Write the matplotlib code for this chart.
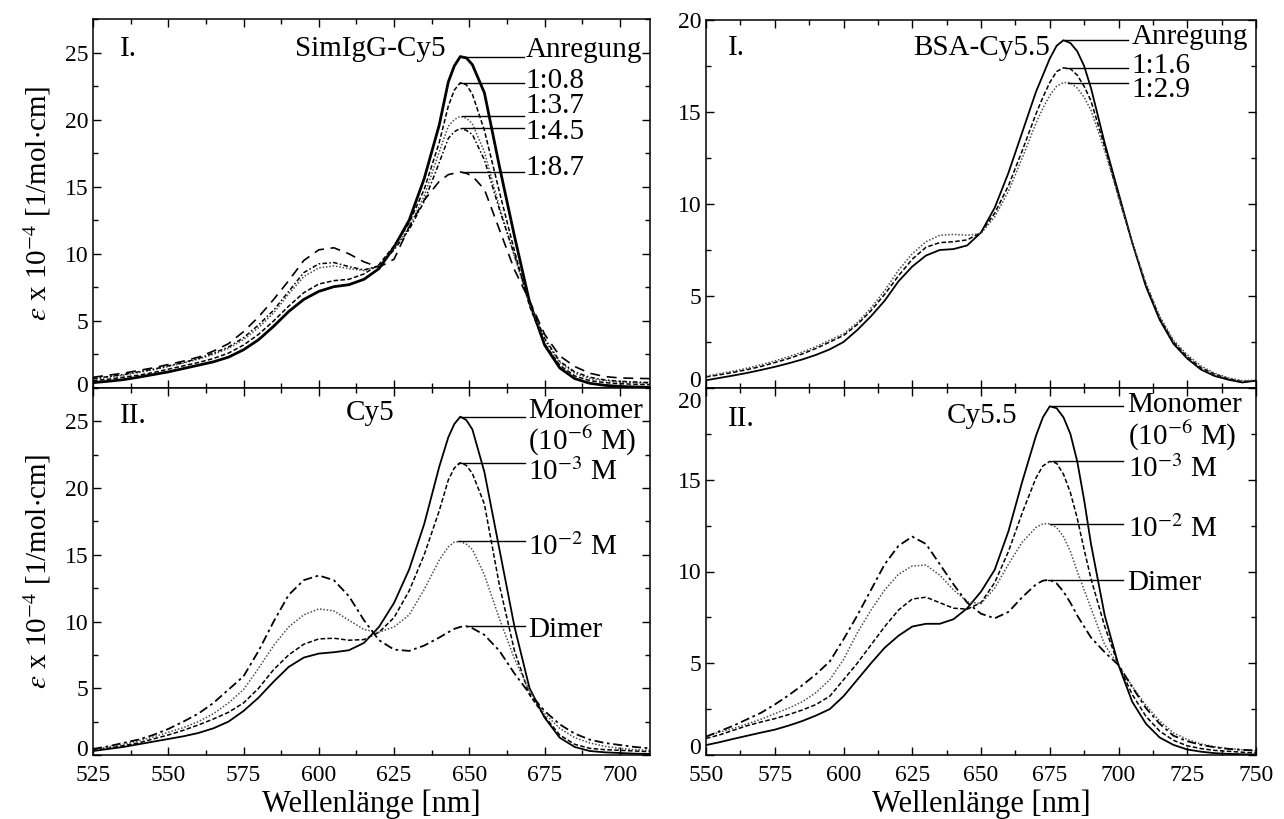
import matplotlib
matplotlib.use("Agg")
import matplotlib.pyplot as plt
from matplotlib.ticker import MultipleLocator
from matplotlib.transforms import ScaledTranslation

plt.rcParams['font.family'] = ['Liberation Serif', 'DejaVu Serif']
plt.rcParams['mathtext.fontset'] = 'stix'
plt.rcParams['axes.linewidth'] = 1.1

# ---------------- Cy5 (left column) ----------------
wl_cy5 = [525, 530, 535, 540, 545, 550, 555, 560, 565, 570, 575, 580, 585, 590,
          595, 600, 605, 610, 615, 620, 625, 630, 635, 640, 643, 645, 647, 649,
          651, 655, 660, 665, 670, 675, 680, 685, 690, 695, 700, 705, 710]

# I. SimIgG-Cy5 conjugates
simigg_anregung = [0.4, 0.5, 0.62, 0.8, 1.0, 1.2, 1.45, 1.7, 1.95, 2.3, 2.85, 3.6, 4.6, 5.7,
                   6.6, 7.2, 7.55, 7.7, 8.1, 8.9, 10.5, 12.5, 15.6, 19.6, 22.8, 24.0, 24.7, 24.6,
                   24.1, 22.0, 16.5, 11.3, 6.4, 3.2, 1.5, 0.7, 0.35, 0.2, 0.12, 0.08, 0.05]
simigg_08 = [0.55, 0.65, 0.8, 0.95, 1.15, 1.4, 1.65, 1.9, 2.2, 2.6, 3.2, 4.0, 5.0, 6.1,
             7.1, 7.75, 8.0, 8.1, 8.5, 9.2, 10.6, 12.3, 14.8, 18.3, 21.0, 22.2, 22.75, 22.6,
             21.9, 19.2, 14.6, 10.2, 6.1, 3.3, 1.7, 0.9, 0.55, 0.4, 0.32, 0.28, 0.25]
simigg_37 = [0.65, 0.8, 0.95, 1.15, 1.35, 1.6, 1.85, 2.15, 2.5, 2.95, 3.6, 4.5, 5.6, 7.0,
             8.3, 8.95, 9.1, 8.9, 8.75, 9.1, 10.4, 12.0, 14.3, 17.6, 19.5, 20.0, 20.25, 20.1,
             19.7, 17.6, 13.5, 9.8, 6.3, 3.6, 1.9, 1.1, 0.7, 0.55, 0.45, 0.4, 0.35]
simigg_45 = [0.7, 0.85, 1.0, 1.2, 1.4, 1.65, 1.9, 2.2, 2.6, 3.05, 3.75, 4.7, 5.8, 7.2,
             8.6, 9.25, 9.35, 9.05, 8.8, 9.1, 10.3, 11.8, 13.9, 16.8, 18.6, 19.1, 19.35, 19.2,
             18.9, 17.0, 13.3, 9.9, 6.4, 3.7, 2.0, 1.2, 0.8, 0.6, 0.5, 0.45, 0.4]
simigg_87 = [0.8, 0.95, 1.1, 1.3, 1.5, 1.75, 2.0, 2.3, 2.75, 3.3, 4.2, 5.3, 6.6, 8.0,
             9.5, 10.3, 10.45, 10.0, 9.4, 9.0, 9.6, 12.0, 14.0, 15.4, 15.9, 16.0, 16.1, 16.0,
             15.8, 14.8, 11.8, 8.8, 6.5, 4.0, 2.4, 1.6, 1.1, 0.85, 0.75, 0.72, 0.7]

# II. free Cy5 at different concentrations
cy5_monomer = [0.3, 0.45, 0.6, 0.8, 1.0, 1.2, 1.4, 1.65, 2.0, 2.5, 3.3, 4.3, 5.5, 6.6,
               7.3, 7.6, 7.7, 7.85, 8.4, 9.6, 11.4, 13.9, 17.3, 21.6, 23.8, 24.8, 25.35, 25.1,
               24.4, 21.2, 15.4, 9.6, 5.0, 2.8, 1.3, 0.6, 0.3, 0.2, 0.15, 0.1, 0.08]
cy5_1e3 = [0.35, 0.5, 0.7, 0.9, 1.2, 1.5, 1.85, 2.25, 2.7, 3.2, 3.9, 5.0, 6.4, 7.5,
           8.3, 8.7, 8.75, 8.6, 8.65, 9.2, 10.3, 12.3, 15.0, 18.3, 20.6, 21.5, 21.9, 21.7,
           21.1, 18.8, 12.7, 7.8, 4.5, 2.9, 1.5, 0.8, 0.5, 0.4, 0.35, 0.3, 0.25]
cy5_1e2 = [0.4, 0.6, 0.8, 1.05, 1.35, 1.7, 2.05, 2.5, 3.1, 3.9, 4.9, 6.5, 8.2, 9.6,
           10.5, 10.95, 10.8, 10.1, 9.4, 9.2, 9.6, 10.5, 12.4, 14.6, 15.6, 15.95, 16.0, 15.8,
           15.4, 13.5, 10.2, 7.2, 4.8, 3.1, 2.0, 1.3, 0.9, 0.65, 0.5, 0.4, 0.35]
cy5_dimer = [0.45, 0.65, 0.9, 1.15, 1.5, 1.95, 2.5, 3.1, 3.9, 4.9, 5.9, 7.8, 10.0, 12.0,
             13.1, 13.45, 13.1, 11.9, 10.1, 8.6, 7.9, 7.8, 8.2, 8.8, 9.2, 9.45, 9.6, 9.65,
             9.5, 9.0, 7.8, 6.1, 4.6, 3.3, 2.3, 1.6, 1.15, 0.9, 0.75, 0.6, 0.5]

# ---------------- Cy5.5 (right column) ----------------
wl_cy55 = [550, 555, 560, 565, 570, 575, 580, 585, 590, 595, 600, 605, 610, 615,
           620, 625, 630, 635, 640, 645, 650, 655, 660, 665, 670, 672.5, 675, 677.5,
           680, 682.5, 685, 687.5, 690, 695, 700, 705, 710, 715, 720, 725, 730,
           735, 740, 745, 750]

# I. BSA-Cy5.5 conjugates
bsa_anregung = [0.42, 0.55, 0.68, 0.82, 0.98, 1.15, 1.34, 1.55, 1.8, 2.1, 2.5, 3.15, 3.9, 4.75,
                5.8, 6.6, 7.2, 7.5, 7.55, 7.75, 8.45, 9.8, 11.7, 13.9, 16.1, 17.0, 17.9, 18.6,
                18.9, 18.75, 18.3, 17.5, 16.3, 13.3, 10.6, 7.9, 5.5, 3.7, 2.4, 1.6, 1.0,
                0.65, 0.45, 0.3, 0.4]
bsa_16 = [0.6, 0.72, 0.85, 1.0, 1.17, 1.38, 1.6, 1.85, 2.15, 2.5, 2.85, 3.45, 4.2, 5.1,
          6.1, 7.0, 7.65, 7.9, 7.95, 8.05, 8.45, 9.5, 11.0, 12.9, 14.9, 15.8, 16.6, 17.2,
          17.4, 17.35, 17.0, 16.4, 15.6, 13.1, 10.4, 7.9, 5.6, 3.8, 2.5, 1.7, 1.1,
          0.75, 0.5, 0.35, 0.4]
bsa_29 = [0.64, 0.78, 0.92, 1.08, 1.26, 1.47, 1.7, 1.95, 2.25, 2.6, 2.95, 3.55, 4.35, 5.3,
          6.4, 7.3, 7.95, 8.3, 8.35, 8.3, 8.4, 9.3, 10.7, 12.5, 14.4, 15.2, 15.9, 16.4,
          16.6, 16.6, 16.3, 15.8, 15.1, 12.9, 10.4, 7.9, 5.7, 3.9, 2.6, 1.8, 1.2,
          0.8, 0.55, 0.4, 0.42]

# II. free Cy5.5 at different concentrations
cy55_monomer = [0.54, 0.7, 0.88, 1.05, 1.22, 1.38, 1.6, 1.85, 2.15, 2.5, 3.2, 4.1, 5.0, 5.85,
                6.5, 7.0, 7.15, 7.15, 7.4, 8.0, 8.9, 10.1, 12.2, 14.9, 17.4, 18.4, 19.0, 18.9,
                18.4, 17.5, 16.0, 13.9, 11.5, 7.6, 4.9, 2.9, 1.7, 0.95, 0.55, 0.3, 0.18,
                0.1, 0.06, 0.04, 0.03]
cy55_1e3 = [0.9, 1.1, 1.35, 1.6, 1.8, 1.98, 2.2, 2.45, 2.75, 3.2, 4.1, 5.0, 6.0, 7.0,
            7.9, 8.5, 8.6, 8.3, 8.0, 7.95, 8.3, 9.4, 11.1, 13.2, 15.1, 15.75, 16.0, 15.9,
            15.3, 14.3, 12.9, 11.2, 9.6, 7.0, 4.9, 3.3, 2.1, 1.3, 0.8, 0.5, 0.35,
            0.25, 0.2, 0.15, 0.12]
cy55_1e2 = [1.0, 1.25, 1.45, 1.7, 1.95, 2.25, 2.55, 2.9, 3.4, 4.1, 5.2, 6.65, 7.9, 9.0,
            9.85, 10.3, 10.35, 9.8, 9.0, 8.35, 8.25, 9.1, 10.4, 11.6, 12.4, 12.6, 12.6, 12.4,
            11.9, 11.1, 10.0, 9.0, 8.0, 6.0, 4.9, 3.75, 2.7, 1.85, 1.2, 0.85, 0.6,
            0.45, 0.35, 0.28, 0.22]
cy55_dimer = [1.0, 1.3, 1.6, 1.95, 2.3, 2.75, 3.25, 3.8, 4.4, 5.1, 6.3, 7.6, 9.0, 10.4,
              11.4, 11.9, 11.5, 10.4, 9.3, 8.3, 7.7, 7.45, 7.8, 8.6, 9.3, 9.5, 9.55, 9.35,
              8.9, 8.3, 7.6, 7.0, 6.4, 5.6, 4.9, 3.7, 2.55, 1.7, 1.05, 0.75, 0.55,
              0.42, 0.33, 0.28, 0.25]

# line styles
SOLID = dict(color='black', ls='-', lw=1.3)
SHORTDASH = dict(color='black', ls=(0, (3, 1.5)), lw=1.1)
DOTTED = dict(color='0.3', ls=(0, (1, 1.2)), lw=1.1)
DASHDOT = dict(color='black', ls=(0, (5, 2, 1.5, 2)), lw=1.3)
DASHDOT2 = dict(color='black', ls=(0, (3, 1.5, 1, 1.5)), lw=1.1)
LONGDASH = dict(color='black', ls=(0, (6, 4)), lw=1.2)

W, H = 1284, 819
fig = plt.figure(figsize=(W / 100, H / 100), dpi=100)


def box(x0, x1, ytop, ybot):
    return [x0 / W, 1 - ybot / H, (x1 - x0) / W, (ybot - ytop) / H]


ax_tl = fig.add_axes(box(93, 650, 19, 388))
ax_bl = fig.add_axes(box(93, 650, 388, 755))
ax_tr = fig.add_axes(box(706, 1256, 20, 388))
ax_br = fig.add_axes(box(706, 1256, 388, 755))

ax_tl.plot(wl_cy5, simigg_anregung, color='black', lw=2.0)
ax_tl.plot(wl_cy5, simigg_08, **SHORTDASH)
ax_tl.plot(wl_cy5, simigg_37, **DOTTED)
ax_tl.plot(wl_cy5, simigg_45, **DASHDOT2)
ax_tl.plot(wl_cy5, simigg_87, **LONGDASH)

ax_bl.plot(wl_cy5, cy5_monomer, **SOLID)
ax_bl.plot(wl_cy5, cy5_1e3, **SHORTDASH)
ax_bl.plot(wl_cy5, cy5_1e2, **DOTTED)
ax_bl.plot(wl_cy5, cy5_dimer, **DASHDOT)

ax_tr.plot(wl_cy55, bsa_anregung, **SOLID)
ax_tr.plot(wl_cy55, bsa_16, **SHORTDASH)
ax_tr.plot(wl_cy55, bsa_29, **DOTTED)

ax_br.plot(wl_cy55, cy55_monomer, **SOLID)
ax_br.plot(wl_cy55, cy55_1e3, **SHORTDASH)
ax_br.plot(wl_cy55, cy55_1e2, **DOTTED)
ax_br.plot(wl_cy55, cy55_dimer, **DASHDOT)

FS_TXT = 21
FS_TICK = 17


def note(ax, text, xt, yt, peak=None, xend=None):
    if peak is not None:
        ax.plot([peak[0], xend], [peak[1], peak[1]], color='black', lw=1.0)
    ax.text(xt, yt, text, fontsize=FS_TXT, ha='left', va='center')


# left top
note(ax_tl, 'Anregung', 668.6, 25.2, (647.5, 24.7), 668)
note(ax_tl, '1:0.8', 668.6, 22.9, (647, 22.75), 668)
note(ax_tl, '1:3.7', 668.6, 21.0, (647.5, 20.25), 668)
note(ax_tl, '1:4.5', 668.6, 19.1, (647.5, 19.35), 668)
note(ax_tl, '1:8.7', 668.6, 16.4, (648, 16.1), 668)
note(ax_tl, 'I.', 534, 25.3)
note(ax_tl, 'SimIgG-Cy5', 592, 25.3)

# left bottom
note(ax_bl, 'Monomer', 669.5, 25.8, (646.8, 25.35), 668.5)
note(ax_bl, '(10$^{-6}$ M)', 669.5, 23.5)
note(ax_bl, '10$^{-3}$ M', 669.5, 21.2, (646.2, 21.9), 668.5)
note(ax_bl, '10$^{-2}$ M', 669.5, 15.6, (646.1, 16.0), 668.5)
note(ax_bl, 'Dimer', 669.5, 9.4, (649.2, 9.65), 668.5)
note(ax_bl, 'II.', 534, 25.4)
note(ax_bl, 'Cy5', 609, 25.6)

# right top
note(ax_tr, 'Anregung', 704.8, 19.05, (680.5, 18.9), 703.3)
note(ax_tr, '1:1.6', 704.8, 17.5, (681, 17.4), 703.3)
note(ax_tr, '1:2.9', 704.8, 16.2, (681.7, 16.6), 703.3)
note(ax_tr, 'I.', 558, 18.5)
note(ax_tr, 'BSA-Cy5.5', 625.5, 18.5)

# right bottom
note(ax_br, 'Monomer', 703.3, 19.1, (675.7, 19.0), 701.8)
note(ax_br, '(10$^{-6}$ M)', 703.3, 17.4)
note(ax_br, '10$^{-3}$ M', 703.3, 15.6, (675.7, 16.0), 701.8)
note(ax_br, '10$^{-2}$ M', 703.3, 12.3, (675, 12.6), 701.8)
note(ax_br, 'Dimer', 703.3, 9.4, (674.5, 9.55), 701.8)
note(ax_br, 'II.', 558, 18.3)
note(ax_br, 'Cy5.5', 637.5, 18.5)

for ax in (ax_tl, ax_bl):
    ax.set_xlim(525, 710)
    ax.set_ylim(0, 27.5)
    ax.set_xticks([525, 550, 575, 600, 625, 650, 675, 700])
    ax.set_yticks([0, 5, 10, 15, 20, 25])
for ax in (ax_tr, ax_br):
    ax.set_xlim(550, 750)
    ax.set_ylim(0, 20)
    ax.set_xticks([550, 575, 600, 625, 650, 675, 700, 725, 750])
    ax.set_yticks([0, 5, 10, 15, 20])

for ax in (ax_tl, ax_bl, ax_tr, ax_br):
    ax.xaxis.set_minor_locator(MultipleLocator(12.5))
    ax.yaxis.set_minor_locator(MultipleLocator(2.5))
    ax.tick_params(which='both', direction='in', top=True, right=True,
                   labelsize=FS_TICK, width=1.0)
    ax.tick_params(which='major', length=6)
    ax.tick_params(which='minor', length=3.5)
    ax.tick_params(axis='x', pad=7)

ax_tl.tick_params(labelbottom=False)
ax_tr.tick_params(labelbottom=False)

ylab = r'$\varepsilon$ x 10$^{-4}$ [1/mol$\cdot$cm]'
ax_tl.set_ylabel(ylab, fontsize=21, labelpad=8)
ax_bl.set_ylabel(ylab, fontsize=21, labelpad=8)
ax_bl.set_xlabel('Wellenlänge [nm]', fontsize=22, labelpad=3)
ax_br.set_xlabel('Wellenlänge [nm]', fontsize=22, labelpad=3)


def nudge(ax, idx, dy):
    lab = ax.yaxis.get_major_ticks()[idx].label1
    lab.set_transform(lab.get_transform() + ScaledTranslation(0, dy / 100, fig.dpi_scale_trans))


nudge(ax_tl, 0, 4)
nudge(ax_bl, 0, 7)
nudge(ax_tr, 0, 9)
nudge(ax_br, 0, 9)
nudge(ax_br, 4, -12)

fig.savefig('out.png', dpi=100)
